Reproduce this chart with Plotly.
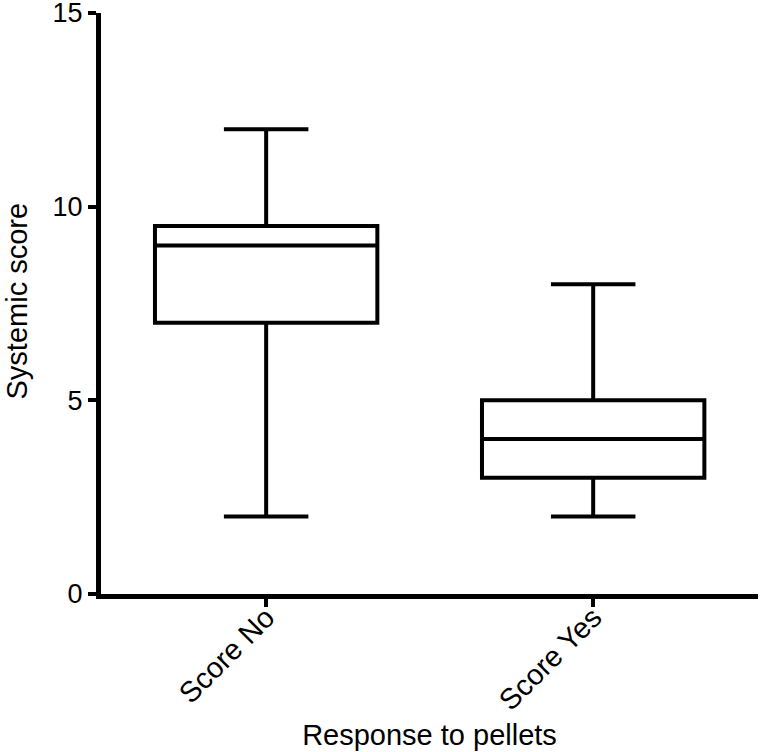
import plotly.graph_objects as go

# Box statistics
groups = ["Score No", "Score Yes"]
lower_fence = [2, 2]
q1 = [7, 3]
median = [9, 4]
q3 = [9.5, 5]
upper_fence = [12, 8]

y_ticks = [0, 5, 10, 15]

font_family = "Liberation Sans, Arial, sans-serif"

fig = go.Figure()

for i, g in enumerate(groups):
    fig.add_trace(go.Box(
        x=[g],
        q1=[q1[i]],
        median=[median[i]],
        q3=[q3[i]],
        lowerfence=[lower_fence[i]],
        upperfence=[upper_fence[i]],
        width=0.68,
        whiskerwidth=0.38,
        fillcolor="white",
        line=dict(color="black", width=4),
        boxpoints=False,
        showlegend=False,
    ))

axis_style = dict(
    showline=True,
    linecolor="black",
    linewidth=5,
    ticks="outside",
    ticklen=8,
    tickwidth=4,
    tickcolor="black",
    showgrid=False,
    zeroline=False,
    automargin=False,
)

fig.update_layout(
    width=760,
    height=752,
    margin=dict(l=101, r=2, t=13, b=158),
    plot_bgcolor="white",
    paper_bgcolor="white",
    font=dict(family=font_family, size=27, color="black"),
    xaxis=dict(
        type="category",
        range=[-0.505, 1.504],
        tickangle=-45,
        tickfont=dict(size=29),
        ticklabelstandoff=-18,
        title=dict(text="Response to pellets", font=dict(size=29), standoff=11),
        **axis_style,
    ),
    yaxis=dict(
        range=[0, 15],
        tickvals=y_ticks,
        tickfont=dict(size=27),
        ticklabeloverflow="allow",
        **axis_style,
    ),
    annotations=[dict(
        text="Systemic score",
        xref="paper", yref="paper",
        x=0, y=0.5, xshift=-85, yshift=2,
        xanchor="center", yanchor="middle",
        textangle=-90,
        showarrow=False,
        font=dict(size=29),
    )],
)

# drop the default body margin so the figure fills the window exactly
fig.write_html(
    "out.html",
    config={"displayModeBar": False},
    post_script="document.body.style.margin='0';",
)
